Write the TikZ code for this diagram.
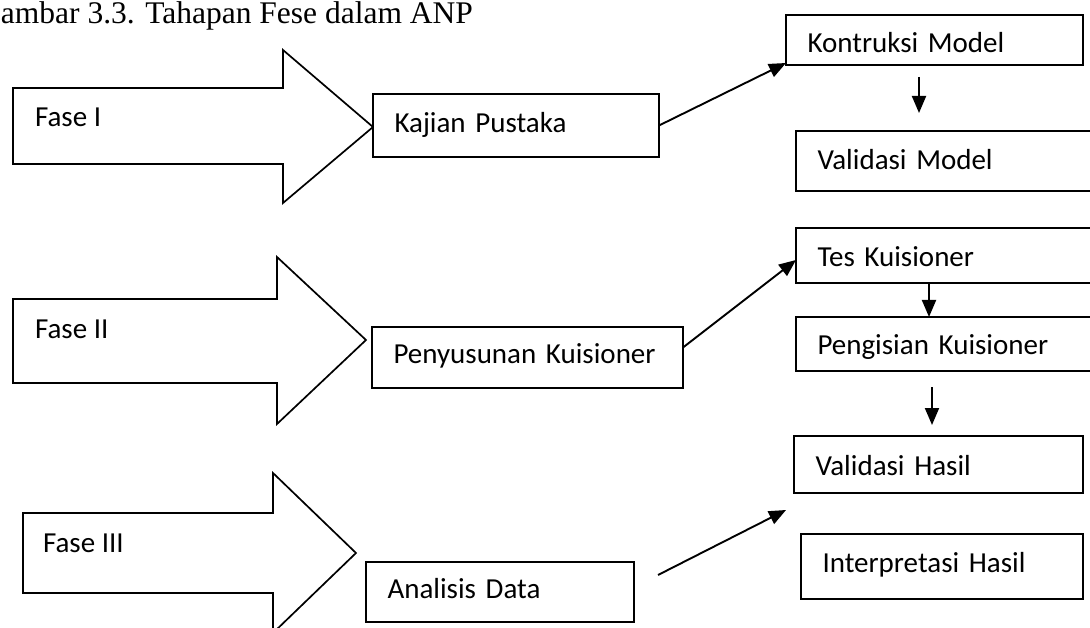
\documentclass[tikz,border=0pt]{standalone}
\usepackage{fontspec}
\setmainfont{Carlito}
\newfontfamily\titlefont{Liberation Serif}
\usetikzlibrary{arrows.meta,calc}

\begin{document}
\begin{tikzpicture}[x=1pt,y=-1pt,
  every node/.style={inner sep=0pt, outer sep=0pt},
  stage/.style={draw, line width=1.7pt, fill=white, shape=rectangle,
    anchor=north west, inner xsep=21.5pt, inner ysep=0pt, align=left,
    font=\fontsize{29}{34}\selectfont},
  phase/.style={draw, line width=1.7pt, line join=miter, fill=white},
  phaselabel/.style={anchor=base west, font=\fontsize{29}{34}\selectfont},
  flow/.style={line width=1.9pt, -{Triangle[length=17pt,width=14pt]}}
]
\useasboundingbox (0,0) rectangle (1090,628);
\clip (0,0) rectangle (1090,628);

% caption
\node[anchor=base west, font=\titlefont\fontsize{31.5}{36}\selectfont] (title) at (1,24)
  {ambar 3.3. Tahapan Fese dalam ANP};

% phase block arrows
\draw[phase] (13,88) -- (283,88) -- (283,50) -- (373,127) -- (283,203)
  -- (283,164) -- (13,164) -- cycle;
\node[phaselabel] (f1) at (35,127) {Fase I};

\draw[phase] (13,299) -- (277,299) -- (277,257) -- (366,340) -- (277,424)
  -- (277,383) -- (13,383) -- cycle;
\node[phaselabel] (f2) at (35,338) {Fase II};

\draw[phase] (23,513) -- (273,513) -- (273,473) -- (356,553) -- (273,633)
  -- (273,593) -- (23,593) -- cycle;
\node[phaselabel] (f3) at (43,552) {Fase III};

% stage boxes
\node[stage, minimum width=286pt, text width=243pt, minimum height=63pt,
  text height=20.5pt, text depth=5.5pt] (kaj) at (373,94) {Kajian Pustaka};
\node[stage, minimum width=297pt, text width=254pt, minimum height=50pt,
  text height=26pt, text depth=0pt] (kon) at (786,15) {Kontruksi Model};
\node[stage, minimum width=304pt, text width=261pt, minimum height=60pt,
  text height=22pt, text depth=4pt] (vm) at (796,131) {Validasi Model};

\node[stage, minimum width=311pt, text width=268pt, minimum height=61pt,
  text height=18.5pt, text depth=7.5pt] (pen) at (372,327) {Penyusunan Kuisioner};
\node[stage, minimum width=304pt, text width=261pt, minimum height=55pt,
  text height=24.5pt, text depth=1.5pt] (tes) at (796,228) {Tes Kuisioner};
\node[stage, minimum width=304pt, text width=261pt, minimum height=54pt,
  text height=24pt, text depth=2pt] (peng) at (796,317) {Pengisian Kuisioner};

\node[stage, minimum width=268pt, text width=225pt, minimum height=60pt,
  text height=19pt, text depth=7pt] (anal) at (366,562) {Analisis Data};
\node[stage, minimum width=289pt, text width=246pt, minimum height=57pt,
  text height=23.5pt, text depth=2.5pt] (vh) at (794,436) {Validasi Hasil};
\node[stage, minimum width=282pt, text width=239pt, minimum height=65pt,
  text height=18.5pt, text depth=7.5pt] (interp) at (801,534) {Interpretasi Hasil};

% connectors
\draw[flow] (kaj.east) -- ($(kon.south west)+(0,-2)$);
\draw[flow] ($(kon.south west)+(133,12)$) -- ($(vm.north west)+(123,-18)$);
\draw[flow] ($(pen.east)+(0,-10)$) -- ($(tes.west)+(0,4.5)$);
\draw[flow] ($(tes.south west)+(133,0)$) -- ($(peng.north west)+(133,0)$);
\draw[flow] ($(peng.south west)+(136,16)$) -- ($(vh.north west)+(138,-11)$);
\draw[flow] ($(anal.east)+(24,-17)$) -- ($(vh.south west)+(-8,17)$);
\end{tikzpicture}
\end{document}
